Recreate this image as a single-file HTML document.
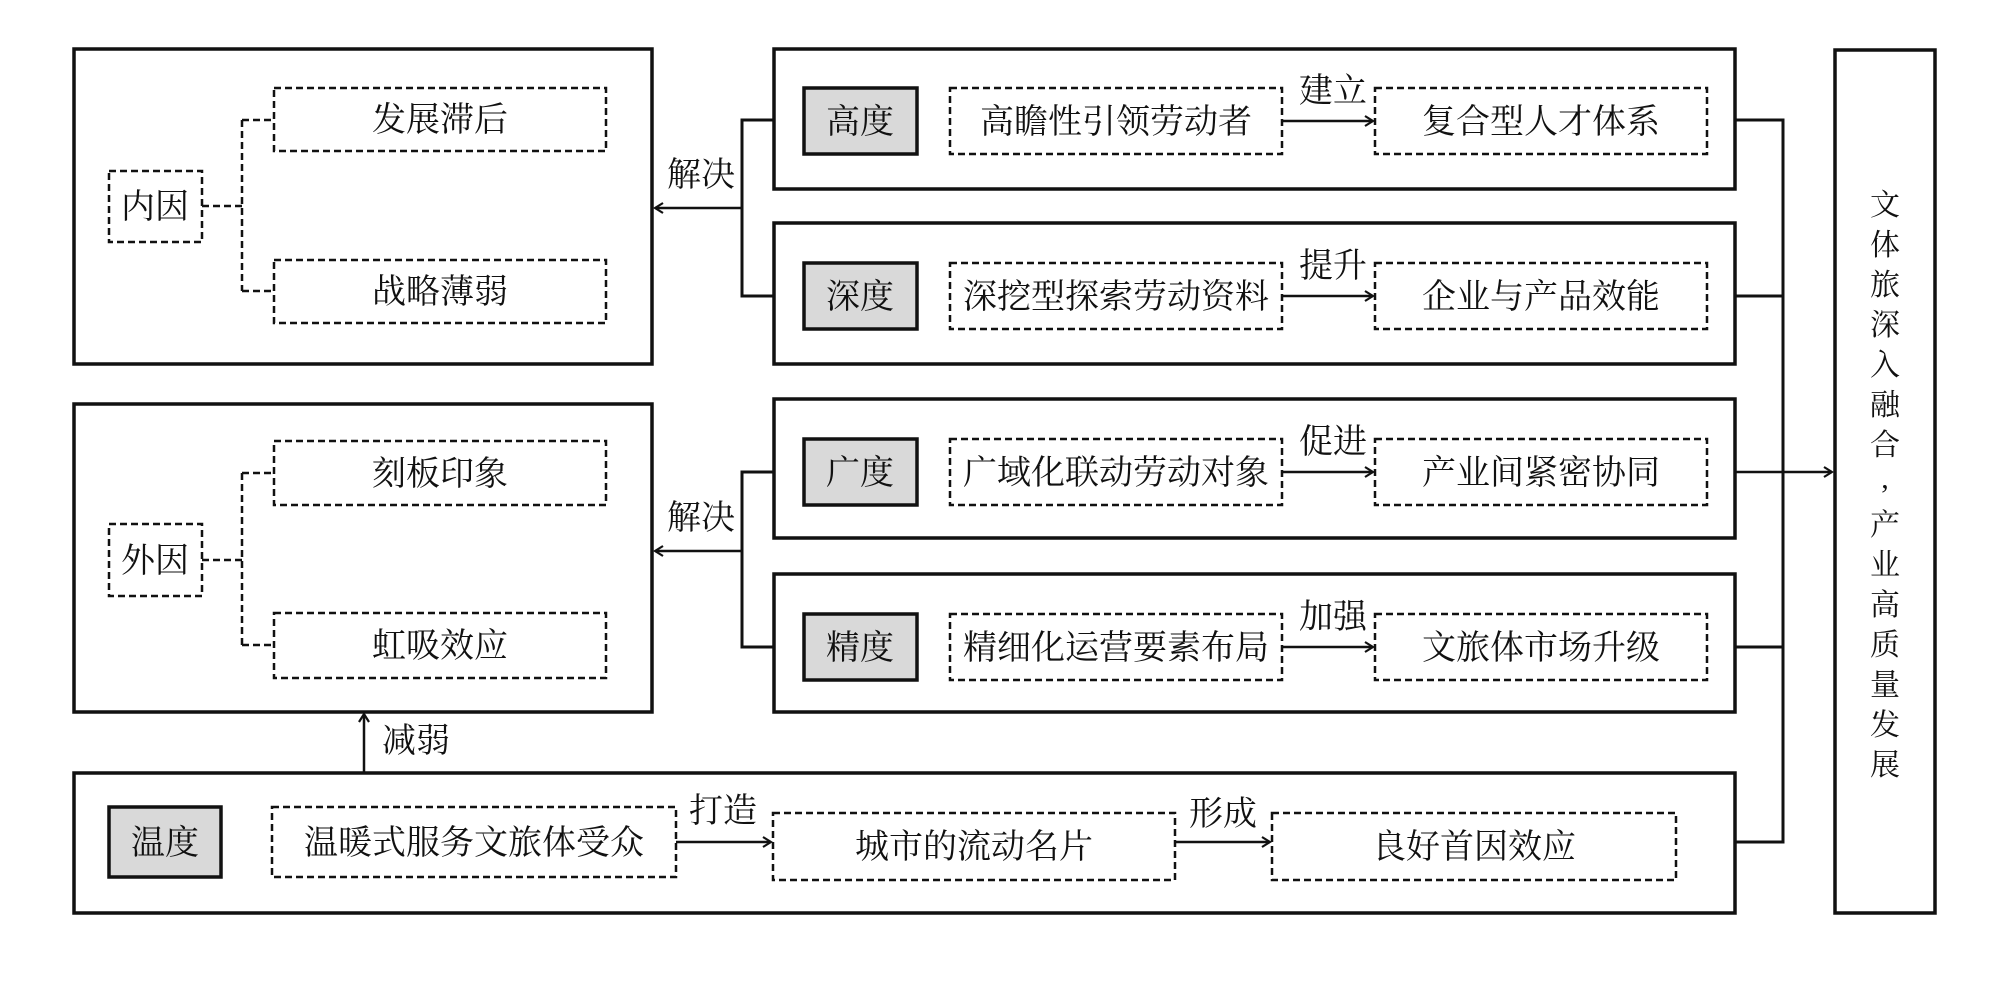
<!DOCTYPE html>
<html><head><meta charset="utf-8"><style>
html,body{margin:0;padding:0;background:#fff;}
svg{display:block;}
text{font-family:"Liberation Serif","Noto Serif CJK SC",serif;font-size:34px;fill:#111;}
text.v{font-size:30px;}
</style></head><body>
<svg width="2000" height="1000" viewBox="0 0 2000 1000" xmlns="http://www.w3.org/2000/svg">
<defs>
<marker id="ah" markerWidth="12" markerHeight="12" refX="10" refY="6" orient="auto" markerUnits="userSpaceOnUse">
<path d="M2,1 L10,6 L2,11" fill="none" stroke="#111" stroke-width="2.2"/>
</marker>
</defs>
<g fill="none" stroke="#111" stroke-width="3.5">
<rect x="74" y="49" width="578" height="315"/>
<rect x="74" y="404" width="578" height="308"/>
<rect x="774" y="49" width="961" height="140"/>
<rect x="774" y="223" width="961" height="141"/>
<rect x="774" y="399" width="961" height="139"/>
<rect x="774" y="574" width="961" height="138"/>
<rect x="74" y="773" width="1661" height="140"/>
<rect x="1835" y="50" width="100" height="863"/>
</g>
<g fill="#d9d9d9" stroke="#111" stroke-width="3.5">
<rect x="804" y="88" width="113" height="66"/>
<rect x="804" y="263" width="113" height="66"/>
<rect x="804" y="439" width="113" height="66"/>
<rect x="804" y="614" width="113" height="66"/>
<rect x="109" y="807" width="112" height="70"/>
</g>
<g fill="none" stroke="#111" stroke-width="2.5" stroke-dasharray="7,4">
<rect x="274" y="88" width="332" height="63"/>
<rect x="274" y="260" width="332" height="63"/>
<rect x="109" y="171" width="93" height="71"/>
<rect x="274" y="441" width="332" height="64"/>
<rect x="274" y="613" width="332" height="65"/>
<rect x="109" y="524" width="93" height="72"/>
<rect x="950" y="88" width="332" height="66"/>
<rect x="1375" y="88" width="332" height="66"/>
<rect x="950" y="263" width="332" height="66"/>
<rect x="1375" y="263" width="332" height="66"/>
<rect x="950" y="439" width="332" height="66"/>
<rect x="1375" y="439" width="332" height="66"/>
<rect x="950" y="614" width="332" height="66"/>
<rect x="1375" y="614" width="332" height="66"/>
<rect x="272" y="807" width="404" height="70"/>
<rect x="773" y="813" width="402" height="67"/>
<rect x="1272" y="813" width="404" height="67"/>
<path d="M202 206 H242 M242 120 V291 M242 120 H274 M242 291 H274"/>
<path d="M202 560 H242 M242 473 V645 M242 473 H274 M242 645 H274"/>
</g>
<g fill="none" stroke="#111" stroke-width="3">
<path d="M774 120 H742 V296 H774"/>
<path d="M774 472 H742 V647 H774"/>
<path d="M1735 120 H1783 V842 H1735 M1735 296 H1783 M1735 647 H1783"/>
</g>
<g fill="none" stroke="#111" stroke-width="2.5" marker-end="url(#ah)">
<path d="M742 208 H655"/>
<path d="M742 551 H655"/>
<path d="M1735 472 H1832"/>
<path d="M1282 121 H1373"/>
<path d="M1282 296 H1373"/>
<path d="M1282 472 H1373"/>
<path d="M1282 647 H1373"/>
<path d="M676 842 H771"/>
<path d="M1175 842 H1270"/>
<path d="M364 773 V714"/>
</g>
<g text-anchor="middle">
<text x="860" y="133">高度</text>
<text x="860" y="308">深度</text>
<text x="860" y="484">广度</text>
<text x="860" y="659">精度</text>
<text x="165" y="854">温度</text>
<text x="155" y="218">内因</text>
<text x="155" y="572">外因</text>
<text x="440" y="131">发展滞后</text>
<text x="440" y="303">战略薄弱</text>
<text x="440" y="485">刻板印象</text>
<text x="440" y="657">虹吸效应</text>
<text x="1116" y="133">高瞻性引领劳动者</text>
<text x="1541" y="133">复合型人才体系</text>
<text x="1116" y="308">深挖型探索劳动资料</text>
<text x="1541" y="308">企业与产品效能</text>
<text x="1116" y="484">广域化联动劳动对象</text>
<text x="1541" y="484">产业间紧密协同</text>
<text x="1116" y="659">精细化运营要素布局</text>
<text x="1541" y="659">文旅体市场升级</text>
<text x="474" y="854">温暖式服务文旅体受众</text>
<text x="974" y="858">城市的流动名片</text>
<text x="1474" y="858">良好首因效应</text>
<text x="1333" y="102">建立</text>
<text x="1333" y="277">提升</text>
<text x="1333" y="453">促进</text>
<text x="1333" y="628">加强</text>
<text x="723" y="822">打造</text>
<text x="1223" y="825">形成</text>
<text x="701" y="186">解决</text>
<text x="701" y="529">解决</text>
<text x="416" y="752">减弱</text>
</g>
<g text-anchor="middle">
<text class="v" x="1885" y="215">文</text>
<text class="v" x="1885" y="255">体</text>
<text class="v" x="1885" y="295">旅</text>
<text class="v" x="1885" y="335">深</text>
<text class="v" x="1885" y="375">入</text>
<text class="v" x="1885" y="415">融</text>
<text class="v" x="1885" y="455">合</text>
<text class="v" x="1885" y="488">,</text>
<text class="v" x="1885" y="535">产</text>
<text class="v" x="1885" y="575">业</text>
<text class="v" x="1885" y="615">高</text>
<text class="v" x="1885" y="655">质</text>
<text class="v" x="1885" y="695">量</text>
<text class="v" x="1885" y="735">发</text>
<text class="v" x="1885" y="775">展</text>
</g>
</svg>
</body></html>
